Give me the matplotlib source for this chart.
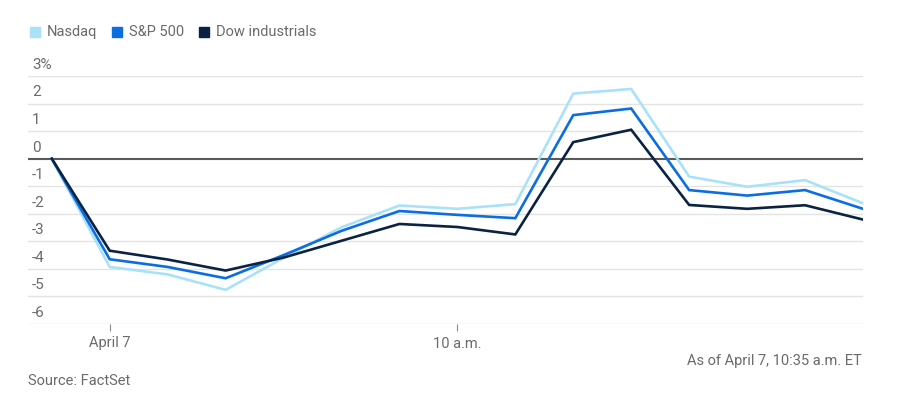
import matplotlib.pyplot as plt
from matplotlib.transforms import blended_transform_factory
from matplotlib.patches import Rectangle

plt.rcParams['font.family'] = ['Roboto', 'DejaVu Sans']

# 5-minute steps from previous close through 10:35 a.m., April 7
steps = list(range(15))
nasdaq = [0, -3.93, -4.20, -4.76, -3.60, -2.49, -1.70, -1.82, -1.65, 2.36, 2.53, -0.65, -1.02, -0.78, -1.62]
sp500 = [0, -3.65, -3.93, -4.34, -3.50, -2.62, -1.90, -2.04, -2.16, 1.58, 1.82, -1.14, -1.34, -1.14, -1.82]
dow = [0, -3.34, -3.66, -4.06, -3.59, -2.98, -2.37, -2.48, -2.75, 0.60, 1.05, -1.68, -1.82, -1.69, -2.21]

series = [("Nasdaq", nasdaq, "#a9e2f8"), ("S&P 500", sp500, "#0b6ee0"), ("Dow industrials", dow, "#0a2344")]

y_ticks = [3, 2, 1, 0, -1, -2, -3, -4, -5, -6]
y_labels = ["3%", "2", "1", "0", "-1", "-2", "-3", "-4", "-5", "-6"]
x_ticks = [1, 7]
x_labels = ["April 7", "10 a.m."]

grey = "#6b6b6b"

fig = plt.figure(figsize=(9.04, 3.99), dpi=100)
ax = fig.add_axes([28 / 904, 75 / 399, (863 - 28) / 904, (324 - 76) / 399])

for yv in y_ticks:
    if yv == 0:
        ax.axhline(0, color="#5a5a5a", lw=1.5, zorder=2)
    else:
        ax.axhline(yv, color="#e3e3e3", lw=1.0, zorder=1)

for name, vals, col in series:
    ax.plot(steps, vals, color=col, lw=1.9, zorder=3, solid_joinstyle="miter")

ax.set_xlim(-0.41, 14)
ax.set_ylim(-6, 3)
for s in ax.spines.values():
    s.set_visible(False)

ax.set_yticks([])
tr = blended_transform_factory(ax.transAxes, ax.transData)
for yv, lab in zip(y_ticks, y_labels):
    ax.text(0.005, yv + 0.15, lab, transform=tr, ha="left", va="bottom",
            fontsize=11, color=grey)

ax.set_xticks(x_ticks)
ax.set_xticklabels(x_labels, fontsize=10.5, color=grey)
ax.tick_params(axis="x", length=5, color="#888888", width=0.8, pad=4)

# legend
lx = [30, 112, 199]
for (name, vals, col), x0 in zip(series, lx):
    fig.patches.append(Rectangle((x0 / 904, (399 - 37) / 399), 10 / 904, 10 / 399,
                                 transform=fig.transFigure, color=col))
    fig.text((x0 + 17) / 904, (399 - 32) / 399, name, fontsize=10.5, color=grey,
             va="center", ha="left")

fig.text(862 / 904, (399 - 361) / 399, "As of April 7, 10:35 a.m. ET", fontsize=10.5,
         color=grey, ha="right", va="center")
fig.text(28 / 904, (399 - 381) / 399, "Source: FactSet", fontsize=10.5,
         color=grey, ha="left", va="center")

fig.savefig("out.png", dpi=100)
